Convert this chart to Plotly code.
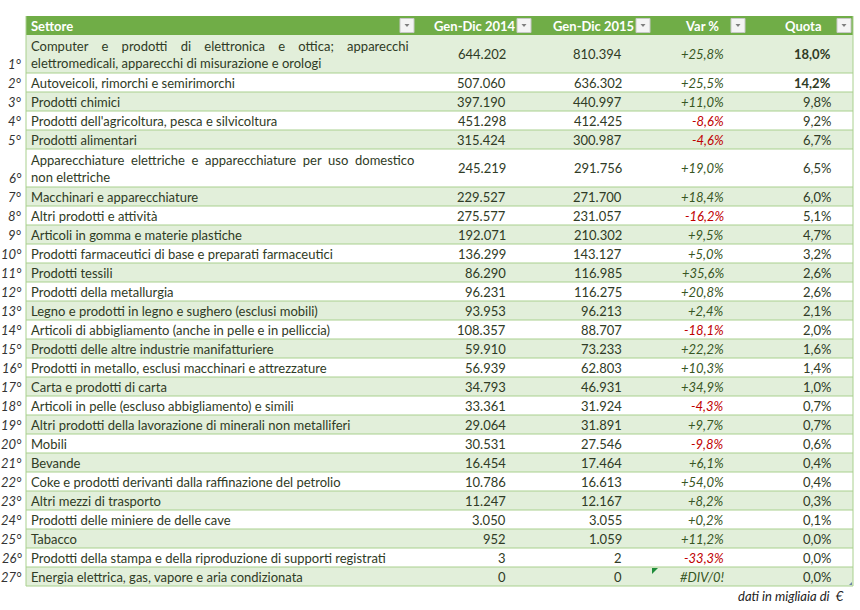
import plotly.graph_objects as go

# ---------------- data ----------------
header = ["Settore", "Gen-Dic 2014", "Gen-Dic 2015", "Var %", "Quota"]
settori = [
    "Computer e prodotti di elettronica e ottica; apparecchi\nelettromedicali, apparecchi di misurazione e orologi",
    "Autoveicoli, rimorchi e semirimorchi",
    "Prodotti chimici",
    "Prodotti dell'agricoltura, pesca e silvicoltura",
    "Prodotti alimentari",
    "Apparecchiature elettriche e apparecchiature per uso domestico\nnon elettriche",
    "Macchinari e apparecchiature",
    "Altri prodotti e attività",
    "Articoli in gomma e materie plastiche",
    "Prodotti farmaceutici di base e preparati farmaceutici",
    "Prodotti tessili",
    "Prodotti della metallurgia",
    "Legno e prodotti in legno e sughero (esclusi mobili)",
    "Articoli di abbigliamento (anche in pelle e in pelliccia)",
    "Prodotti delle altre industrie manifatturiere",
    "Prodotti in metallo, esclusi macchinari e attrezzature",
    "Carta e prodotti di carta",
    "Articoli in pelle (escluso abbigliamento) e simili",
    "Altri prodotti della lavorazione di minerali non metalliferi",
    "Mobili",
    "Bevande",
    "Coke e prodotti derivanti dalla raffinazione del petrolio",
    "Altri mezzi di trasporto",
    "Prodotti delle miniere de delle cave",
    "Tabacco",
    "Prodotti della stampa e della riproduzione di supporti registrati",
    "Energia elettrica, gas, vapore e aria condizionata",
]
gen_dic_2014 = [644202, 507060, 397190, 451298, 315424, 245219, 229527, 275577,
                192071, 136299, 86290, 96231, 93953, 108357, 59910, 56939, 34793,
                33361, 29064, 30531, 16454, 10786, 11247, 3050, 952, 3, 0]
gen_dic_2015 = [810394, 636302, 440997, 412425, 300987, 291756, 271700, 231057,
                210302, 143127, 116985, 116275, 96213, 88707, 73233, 62803, 46931,
                31924, 31891, 27546, 17464, 16613, 12167, 3055, 1059, 2, 0]
var_pct = [25.8, 25.5, 11.0, -8.6, -4.6, 19.0, 18.4, -16.2, 9.5, 5.0, 35.6, 20.8,
           2.4, -18.1, 22.2, 10.3, 34.9, -4.3, 9.7, -9.8, 6.1, 54.0, 8.2, 0.2,
           11.2, -33.3, None]
quota = [18.0, 14.2, 9.8, 9.2, 6.7, 6.5, 6.0, 5.1, 4.7, 3.2, 2.6, 2.6, 2.1, 2.0,
         1.6, 1.4, 1.0, 0.7, 0.7, 0.6, 0.4, 0.4, 0.3, 0.1, 0.0, 0.0, 0.0]
note = "dati in migliaia di  €"

# ---------------- style / layout ----------------
FONT = "Lato"
FS = 13
TXT = "#2f3b25"
RANK = "#333333"
POS = "#375623"
NEG = "#c00000"
HEAD_BG = "#70ad47"
ROW_BG = "#e2efda"
BORDER = "#a9d08e"

X0, X1 = 26, 853
HEAD_TOP, HEAD_H, ROW_H = 16, 19, 19
SET_X = 29
V14_X, V15_X, VAR_X, Q_X = 508, 624, 726, 833
HEAD_CX = [None, 475, 593, 702, 803]
ICON_X = [400, 517, 636, 731, 837]
JUST_SP = {0: 3, 5: 1}  # extra non-breaking spaces per gap for justified first lines


def fmt_int(v):
    return f"{v:,}".replace(",", ".")


def fmt_var(v):
    return "#DIV/0!" if v is None else f"{v:+.1f}%".replace(".", ",")


def fmt_q(v):
    return f"{v:.1f}%".replace(".", ",")


fig = go.Figure()
shapes, ann = [], []


def text(x, y, s, anchor="left", color=TXT, size=FS, bold=False, italic=False):
    if bold:
        s = f"<b>{s}</b>"
    if italic:
        s = f"<i>{s}</i>"
    ann.append(dict(x=x, y=y, xref="x", yref="y", text=s, showarrow=False,
                    xanchor=anchor, yanchor="middle", align=anchor,
                    font=dict(family=FONT, size=size, color=color)))


# header
shapes.append(dict(type="rect", x0=X0, x1=X1, y0=HEAD_TOP, y1=HEAD_TOP + HEAD_H,
                   fillcolor=HEAD_BG, line_width=0, layer="below"))
hy = HEAD_TOP + HEAD_H / 2
text(SET_X, hy, header[0], color="white", bold=True)
for i in range(1, 5):
    text(HEAD_CX[i], hy, header[i], anchor="center", color="white", bold=True)
for ix in ICON_X:
    shapes.append(dict(type="rect", x0=ix, x1=ix + 14, y0=hy - 7, y1=hy + 7,
                       fillcolor="#f4f4f4", line=dict(color="#c8c8c8", width=1)))
    shapes.append(dict(type="path", path=f"M {ix+4.5} {hy-1.5} L {ix+9.5} {hy-1.5} L {ix+7} {hy+1.5} Z",
                       fillcolor="#7f7f7f", line_width=0))

# rows
y = HEAD_TOP + HEAD_H
for i, name in enumerate(settori):
    lines = name.split("\n")
    h = ROW_H * len(lines)
    if i % 2 == 0:
        shapes.append(dict(type="rect", x0=X0, x1=X1, y0=y, y1=y + h,
                           fillcolor=ROW_BG, line_width=0, layer="below"))
    shapes.append(dict(type="line", x0=X0, x1=X1, y0=y + h, y1=y + h,
                       line=dict(color=BORDER, width=1)))
    cy = y + h / 2
    if len(lines) > 1:
        extra = "\u00a0" * JUST_SP.get(i, 0)
        first = (" " + extra).join(lines[0].split(" "))
        label = "<br>".join([first] + lines[1:])
    else:
        label = name
    text(SET_X, cy, label)
    text(24, y + h - ROW_H / 2, f"{i+1}°", anchor="right", italic=True, color=RANK)
    text(V14_X, cy, fmt_int(gen_dic_2014[i]), anchor="right")
    text(V15_X, cy, fmt_int(gen_dic_2015[i]), anchor="right")
    v = var_pct[i]
    text(VAR_X, cy, fmt_var(v), anchor="right",
         color=NEG if (v is not None and v < 0) else POS, italic=True)
    text(Q_X, cy, fmt_q(quota[i]), anchor="right", bold=quota[i] >= 10)
    y += h

Y_END = y
shapes.append(dict(type="line", x0=X0, x1=X0, y0=HEAD_TOP, y1=Y_END,
                   line=dict(color=BORDER, width=1)))
shapes.append(dict(type="line", x0=X1, x1=X1, y0=HEAD_TOP, y1=Y_END,
                   line=dict(color=BORDER, width=1)))
# error indicator in last Var % cell
shapes.append(dict(type="path",
                   path=f"M 652 {Y_END-ROW_H+1} L 658 {Y_END-ROW_H+1} L 652 {Y_END-ROW_H+7} Z",
                   fillcolor="#1e8c3a", line_width=0))
# table resize handle
shapes.append(dict(type="path",
                   path=f"M {X1-1} {Y_END-4} L {X1-1} {Y_END-1} L {X1-4} {Y_END-1} Z",
                   fillcolor="#6f86a6", line_width=0))

text(846, Y_END + 10, note, anchor="right", size=13, italic=True, color="#222222")

fig.update_layout(
    width=860, height=610, margin=dict(l=0, r=0, t=0, b=0),
    paper_bgcolor="white", plot_bgcolor="white",
    xaxis=dict(range=[0, 860], visible=False, fixedrange=True),
    yaxis=dict(range=[610, 0], visible=False, fixedrange=True),
    shapes=shapes, annotations=ann, showlegend=False,
)
fig.write_html("out.html", config={"displayModeBar": False},
               post_script="document.body.style.margin='0';document.body.style.overflow='hidden';")
